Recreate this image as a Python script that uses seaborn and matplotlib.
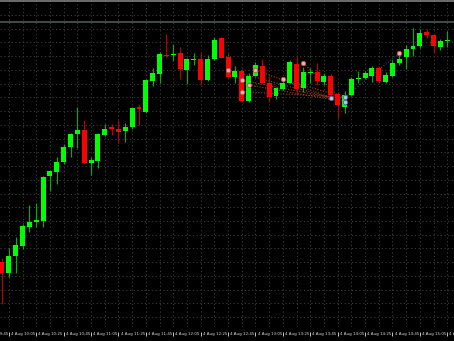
import numpy as np
import pandas as pd
import seaborn as sns
import matplotlib
matplotlib.use("Agg")
import matplotlib.pyplot as plt

# ---- data (price units, 5-minute candles from 10:00 to 15:25) ----
opens = [79.3, 68.3, 85.3, 95.3, 113.7, 119.3, 119.7, 165, 168.7, 179, 194, 206.7, 211, 178.3, 180.3, 206,
         214.3, 212.3, 210, 213.7, 233.7, 229.3, 260, 267, 286.3, 286.3, 287.7, 271.3, 280.7, 282, 261.3, 281.7,
         303, 283.7, 264.3, 270.3, 240, 265.3, 275, 258.3, 245, 252, 258.3, 277, 252.7, 267.7, 268.7, 259.3,
         265.3, 247, 234.3, 245.7, 261.7, 262.7, 265, 273.3, 259.3, 265, 277.7, 283.7, 291.7, 295.3, 309, 306,
         294.3, 299.7]
highs = [83, 93, 103.7, 117, 135.7, 137.7, 165, 171, 184, 197, 208, 234, 221, 184.3, 208, 217,
         217, 221, 218, 234, 237, 262, 273.3, 289.3, 307, 296.7, 294.3, 283, 288.3, 288.7, 285.7, 304.3,
         304, 288.3, 275, 272, 268, 279, 281.7, 265, 254, 262, 281, 284.3, 274.3, 272.7, 277.7, 267.7,
         267, 249, 250.3, 264, 270.3, 270.3, 275, 275, 268.7, 281, 287.7, 296, 312.7, 311.7, 311.7, 307,
         302, 310.3]
lows = [37, 63.7, 68.3, 91.7, 109.3, 113.7, 114.3, 150, 157, 176.7, 184.3, 192.7, 178, 166, 173.3, 205,
        206, 198.3, 199.3, 212, 216, 228, 255.3, 257.7, 284.3, 280.3, 261.7, 256.7, 276, 256, 260, 281,
        283, 262.7, 257.7, 239, 239, 265, 258, 239.3, 242, 251, 258, 246, 249.3, 257.7, 256, 256,
        242.7, 222.7, 228.3, 245, 257.7, 262, 259.3, 257.7, 258, 264, 276, 271.7, 285.3, 292.7, 302.7, 287.7,
        291, 294.3]
closes = [68.3, 85, 96, 115, 119, 121.3, 164, 170, 179.3, 194, 206.7, 210.7, 178.3, 180.7, 206.7, 211.7,
          212.3, 209.3, 213.7, 232.7, 231.7, 261, 267.7, 286.7, 284.7, 287.3, 272, 282, 282, 261.3, 281.7, 301,
          283.3, 264.3, 270.3, 240, 265.3, 276, 258.3, 244.3, 252.7, 258.3, 279.3, 252, 269.3, 269.3, 260, 265,
          246, 236, 246, 262.3, 263.3, 267.7, 272.7, 260.3, 266, 277.7, 281.7, 291.7, 295.3, 307.7, 305.7, 295,
          300.3, 301]

# time labels (every 4th candle starting at 10:05)
label_index = list(range(-3, 66, 4))
label_text = ["4 Aug 09:45", "4 Aug 10:05", "4 Aug 10:25", "4 Aug 10:45", "4 Aug 11:05", "4 Aug 11:25",
              "4 Aug 11:45", "4 Aug 12:05", "4 Aug 12:25", "4 Aug 12:45", "4 Aug 13:05", "4 Aug 13:25",
              "4 Aug 13:45", "4 Aug 14:05", "4 Aug 14:25", "4 Aug 14:45", "4 Aug 15:05", "4 Aug 15:25"]

# trade markers
sell_idx = [33, 35, 35, 36, 37, 41, 44, 58]
sell_price = [271, 260.7, 249.3, 256, 271, 261.7, 277.7, 287.7]
buy_idx = [48, 50, 50]
buy_price = [243.5, 243.7, 239.3]
# trade connection lines (start idx, start price, end idx, end price)
red_links_x0 = [33, 35, 35, 36, 37, 41, 44]
red_links_y0 = [271, 260.7, 249.3, 256, 271, 261.7, 277.7]
red_links_x1 = [48, 48, 50, 50, 48, 50, 50]
red_links_y1 = [243.5, 243.5, 243.7, 239.3, 243.5, 243.7, 239.3]
blue_link_x = [50, 58]
blue_link_y = [243.7, 287.7]

# horizontal level lines
level_lines = [340, 319]

df = pd.DataFrame({"i": np.arange(len(opens)), "open": opens, "high": highs, "low": lows, "close": closes})
df["up"] = df["close"] >= df["open"]

sns.set_theme(style="dark", rc={"axes.facecolor": "black", "figure.facecolor": "black",
                                "axes.edgecolor": "black"})
plt.rcParams["font.family"] = ["DejaVu Sans"]

W, H = 454, 341
fig = plt.figure(figsize=(W / 100, H / 100), dpi=100)
ax = fig.add_axes([0, 14 / H, 1, 327 / H])
ax.set_facecolor("black")

step = 6.85
x_left = -2 / step
x_right = (W - 2) / step
ax.set_xlim(x_left, x_right)
ax.set_ylim(14, 341)

# grid
grid_col = "#3a3a3a"
for gx in np.arange(1, 67, 2):
    ax.axvline(gx, color=grid_col, lw=0.72, ls=(0, (1.2, 2.5)), zorder=0)
for k in range(1, 24):
    gy = 341 - (1.3 + 13.73 * k)
    ax.axhline(gy, color=grid_col, lw=0.72, ls=(0, (1.2, 2.5)), zorder=0)

# level lines
ax.axhline(level_lines[0], color="#8a8a8a", lw=1.1, zorder=1)
ax.axhline(level_lines[1], color="#4e6262", lw=1.1, zorder=1)

# trade connection lines
for a, b, c, d in zip(red_links_x0, red_links_y0, red_links_x1, red_links_y1):
    ax.plot([a, c], [b, d], color="#a8401c", lw=0.8, ls=(0, (1, 1.5)), zorder=2)
ax.plot(blue_link_x, blue_link_y, color="#2a4a8a", lw=0.8, ls=(0, (1, 1.5)), zorder=2)

# wicks
wick_cols = np.where(df["up"], "#00b400", "#c00000")
ax.vlines(df["i"], df["low"], df["high"], colors=wick_cols, lw=0.8, zorder=3)

# bodies
body_bottom = np.minimum(df["open"], df["close"])
body_h = np.maximum(np.abs(df["close"] - df["open"]), 1.2)
body_cols = np.where(df["up"], "#00ff00", "#ff0000")
ax.bar(df["i"], body_h, bottom=body_bottom, width=0.72, color=body_cols, linewidth=0, zorder=4)

# markers
sns.scatterplot(x=sell_idx, y=sell_price, ax=ax, marker="o", s=10, color="#f2b0a8",
                edgecolor="#c05050", linewidth=0.6, zorder=5, legend=False)
sns.scatterplot(x=buy_idx, y=buy_price, ax=ax, marker="o", s=10, color="#b8c4e8",
                edgecolor="#5060a0", linewidth=0.6, zorder=5, legend=False)

ax.set_xticks([])
ax.set_yticks([])
for s in ax.spines.values():
    s.set_visible(False)

# time axis labels
for idx, txt in zip(label_index, label_text):
    ax.vlines(idx, 5.0, 9.0, colors="#c8c8c8", lw=0.7, clip_on=False)
    ax.text(idx + 0.3, 6.8, txt, color="#d8d8d8", fontsize=2.9, ha="left", va="center", clip_on=False)

fig.savefig("out.png", dpi=100, facecolor="black")
